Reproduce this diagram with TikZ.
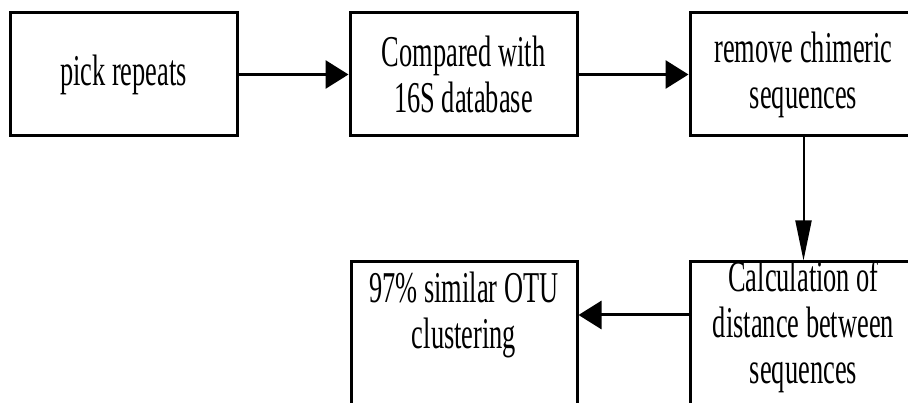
\documentclass[tikz,border=0pt]{standalone}
\usepackage{fontspec}
\setmainfont{Liberation Serif}[FakeStretch=0.6]
\usetikzlibrary{arrows.meta}

\begin{document}
\begin{tikzpicture}[x=1pt, y=-1pt,
  box/.style={draw, line width=3pt, minimum width=227pt, minimum height=123pt, inner sep=0pt},
  tallbox/.style={box, minimum height=160pt},
  txt/.style={align=center, font=\fontsize{44}{46}\selectfont},
  arr/.style={line width=3pt, -{Triangle[length=23pt, width=28pt]}}]

\useasboundingbox (0,0) rectangle (908,403);
\clip (0,0) rectangle (908,403);

% top row
\node[box, txt] (pick) at (123.5, 74.5) {pick repeats};
\node[box, txt] (compare) at (463.5, 74.5) {Compared with\\16S database};
\node[box, txt] (chimera) at (803.5, 74.5) {remove chimeric\\sequences};

% bottom row
\node[tallbox] (distbox) at (803.5, 342) {};
\node[txt] (dist) at (803.5, 327) {Calculation of\\distance between\\sequences};
\node[tallbox, minimum width=226pt] (otubox) at (464, 342) {};
\node[txt] (otu) at (464, 315) {97\% similar OTU\\clustering};

% arrows
\draw[arr] (pick) -- (compare);
\draw[arr] (compare) -- (chimera);
\draw[line width=2pt, -{Triangle[length=40pt, width=16pt]}] (chimera) -- (distbox);
\draw[arr] (distbox.west |- otu) -- (otubox.east |- otu);

\end{tikzpicture}
\end{document}
